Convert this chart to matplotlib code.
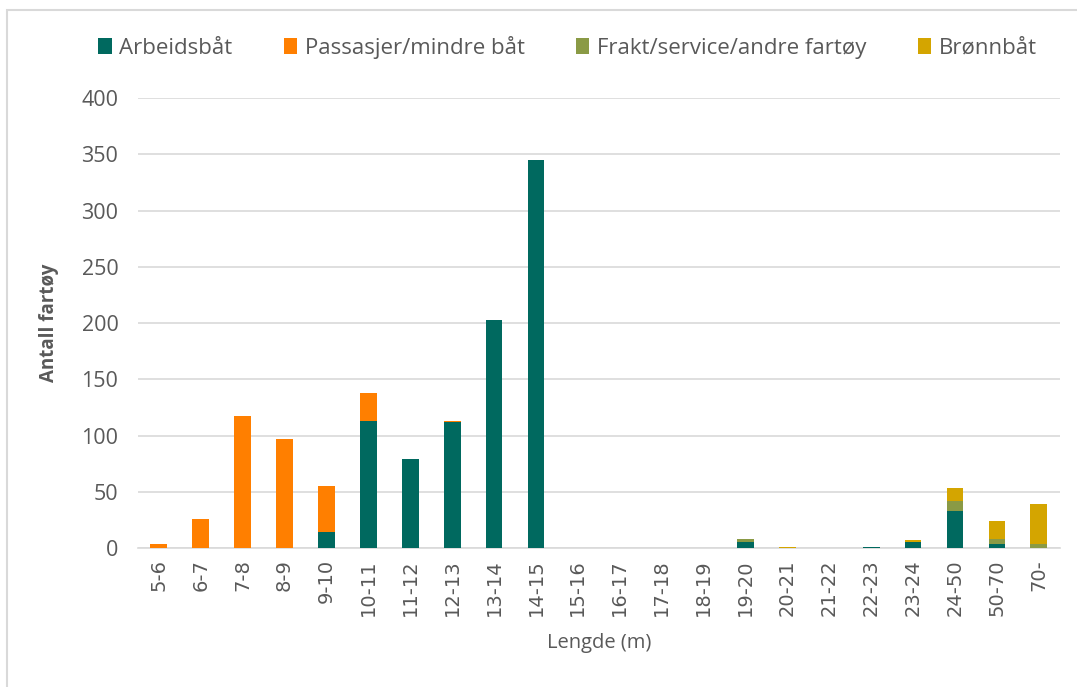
import matplotlib
matplotlib.use("Agg")
import matplotlib.pyplot as plt
from matplotlib.patches import Rectangle
import numpy as np

categories = ["5-6", "6-7", "7-8", "8-9", "9-10", "10-11", "11-12", "12-13", "13-14",
              "14-15", "15-16", "16-17", "17-18", "18-19", "19-20", "20-21", "21-22",
              "22-23", "23-24", "24-50", "50-70", "70-"]
arbeidsbat = [0, 0, 0, 0, 14, 113, 79, 112, 203, 345, 0, 0, 0, 0, 5, 0, 0, 1, 5, 33, 4, 0]
passasjer = [4, 26, 117, 97, 41, 25, 0, 1, 0, 0, 0, 0, 0, 0, 0, 0, 0, 0, 0, 0, 0, 0]
frakt = [0, 0, 0, 0, 0, 0, 0, 0, 0, 0, 0, 0, 0, 0, 3, 0, 0, 0, 0, 9, 4, 4]
bronnbat = [0, 0, 0, 0, 0, 0, 0, 0, 0, 0, 0, 0, 0, 0, 0, 1, 0, 0, 2, 11, 16, 35]

series = [
    ("Arbeidsbåt", arbeidsbat, "#00695F"),
    ("Passasjer/mindre båt", passasjer, "#FF7F00"),
    ("Frakt/service/andre fartøy", frakt, "#8A9A45"),
    ("Brønnbåt", bronnbat, "#D4A500"),
]

plt.rcParams['font.family'] = ['Open Sans', 'DejaVu Sans']
grey = "#595959"

fig = plt.figure(figsize=(10.77, 6.87), dpi=100)
ax = fig.add_axes([0.128, 0.2023, 0.856, 0.655])

x = np.arange(len(categories))
bottom = np.zeros(len(categories))
handles = []
for name, vals, col in series:
    v = np.array(vals, dtype=float)
    b = ax.bar(x, v, width=0.4, bottom=bottom, color=col, label=name, zorder=3)
    handles.append(b)
    bottom += v

ax.set_ylim(0, 400)
ax.set_xlim(-0.5, len(categories) - 0.5)
ax.set_yticks(range(0, 401, 50))
ax.yaxis.grid(True, color="#D9D9D9", linewidth=1.2, zorder=0)
ax.set_axisbelow(True)
for s in ["top", "right", "left"]:
    ax.spines[s].set_visible(False)
ax.spines["bottom"].set_color("#D9D9D9")
ax.spines["bottom"].set_linewidth(1.2)
ax.set_xticks(x)
ax.set_xticklabels(categories, rotation=90, fontsize=14, color=grey,
                   family=['DejaVu Sans'])
ax.tick_params(axis="y", length=0, labelsize=15.5, labelcolor=grey, pad=14)
ax.tick_params(axis="x", length=0, pad=8)

ax.set_ylabel("Antall fartøy", fontsize=13.5, fontweight="bold", color=grey, labelpad=16)
ax.set_xlabel("Lengde (m)", fontsize=14.5, color=grey, labelpad=12)

leg = fig.legend(handles=handles, labels=[s[0] for s in series], loc="center",
                 bbox_to_anchor=(0.527, 0.931), ncol=4, frameon=False,
                 fontsize=16, handlelength=0.6, handleheight=0.7,
                 handletextpad=0.35, columnspacing=2.3)
for t in leg.get_texts():
    t.set_color(grey)

fig.patches.append(Rectangle((7 / 1077, -0.1), 1.2, 1 - 10 / 687 + 0.1,
                             transform=fig.transFigure, fill=False,
                             edgecolor="#D9D9D9", linewidth=1.5))

fig.savefig("out.png", dpi=100)
